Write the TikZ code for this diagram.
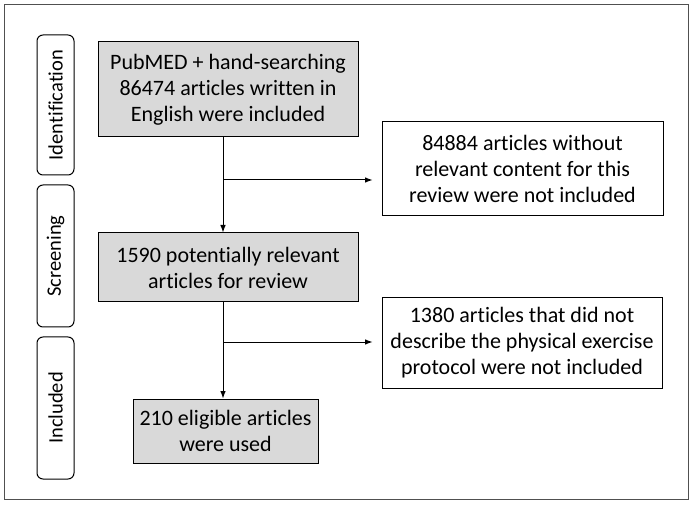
\documentclass[tikz,border=0pt]{standalone}
\usepackage{fontspec}
\setmainfont[Ligatures=NoCommon]{Carlito}
\usetikzlibrary{arrows.meta}
\definecolor{boxgray}{RGB}{217,217,217}
\definecolor{framegray}{RGB}{80,80,80}

\begin{document}
\begin{tikzpicture}[x=1pt, y=-1pt, >=Latex,
  box/.style={draw, line width=1pt, align=center, inner sep=0pt, font=\fontsize{22}{26}\selectfont},
  graybox/.style={box, fill=boxgray},
  stage/.style={draw, line width=1pt, rounded corners=6pt, rotate=90, inner sep=0pt, font=\fontsize{20.5}{22}\selectfont}]
\useasboundingbox (0,0) rectangle (694,505);
\draw[framegray, line width=1pt] (4,5) rectangle (688,499);
% stages
\node[stage, minimum width=140pt, minimum height=37pt] (ident) at (55.5,105) {Identification};
\node[stage, minimum width=142pt, minimum height=37pt] (screen) at (55.5,256) {Screening};
\node[stage, minimum width=142pt, minimum height=37pt] (incl) at (55.5,408) {Included};
% boxes
\node[graybox, minimum width=260pt, minimum height=95pt] (A) at (228,89.5) {PubMED + hand-searching\\86474 articles written in\\English were included};
\node[graybox, minimum width=260pt, minimum height=69pt] (B) at (228,267.5) {1590 potentially relevant\\articles for review};
\node[graybox, minimum width=185pt, minimum height=64pt] (C) at (225.5,431) {210 eligible articles\\were used};
\node[box, minimum width=281pt, minimum height=94pt] (D) at (522.5,169) {84884 articles without\\relevant content for this\\review were not included};
\node[box, minimum width=280pt, minimum height=90pt] (E) at (522,343) {1380 articles that did not\\describe the physical exercise\\protocol were not included};
% connectors
\coordinate (j1) at (223,180);
\coordinate (j2) at (223,342);
\draw[->, line width=1pt] (j1 |- A.south) -- (j1 |- B.north);
\draw[->, line width=1pt] (j1) -- ([xshift=-9pt]D.west |- j1);
\draw[->, line width=1pt] (j2 |- B.south) -- (j2 |- C.north);
\draw[->, line width=1pt] (j2) -- ([xshift=-9pt]E.west |- j2);
\end{tikzpicture}
\end{document}
